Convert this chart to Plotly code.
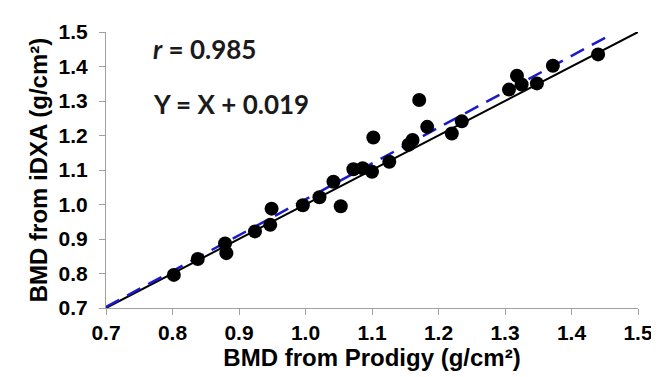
import plotly.graph_objects as go

# Data
prodigy = [0.802, 0.838, 0.879, 0.881, 0.924, 0.947, 0.949, 0.996, 1.021, 1.042,
           1.053, 1.072, 1.086, 1.100, 1.102, 1.126, 1.155, 1.161, 1.171, 1.183,
           1.220, 1.235, 1.306, 1.318, 1.325, 1.348, 1.372, 1.440]
idxa = [0.796, 0.842, 0.887, 0.859, 0.922, 0.941, 0.988, 0.998, 1.021, 1.066,
        0.995, 1.102, 1.105, 1.095, 1.194, 1.124, 1.173, 1.187, 1.303, 1.225,
        1.206, 1.241, 1.333, 1.373, 1.348, 1.351, 1.402, 1.435]

identity_x = [0.7, 1.5]
identity_y = [0.7, 1.5]
fit_x = [0.7, 1.46]
fit_y = [0.703, 1.493]

tick_vals = [0.7, 0.8, 0.9, 1.0, 1.1, 1.2, 1.3, 1.4, 1.5]
tick_text = ["0.7", "0.8", "0.9", "1.0", "1.1", "1.2", "1.3", "1.4", "1.5"]

fig = go.Figure()
fig.add_trace(go.Scatter(x=identity_x, y=identity_y, mode="lines",
                         line=dict(color="black", width=2), showlegend=False))
fig.add_trace(go.Scatter(x=fit_x, y=fit_y, mode="lines",
                         line=dict(color="#1a1acc", width=2.5, dash="15px,9px"),
                         showlegend=False))
fig.add_trace(go.Scatter(x=prodigy, y=idxa, mode="markers",
                         marker=dict(color="black", size=14), showlegend=False))

axis_font = dict(family="Liberation Sans, Arial", size=21, color="black", weight="bold")
title_font = dict(family="Liberation Sans, Arial", size=24, color="black", weight="bold")

fig.update_xaxes(range=[0.7, 1.5], tickvals=tick_vals, ticktext=tick_text,
                 showgrid=False, zeroline=False, showline=True, linecolor="#a0a0a0",
                 linewidth=1, ticks="outside", ticklen=6, tickcolor="#a0a0a0",
                 tickfont=axis_font,
                 title=dict(text="BMD from Prodigy (g/cm²)", font=title_font, standoff=2))
fig.update_yaxes(range=[0.7, 1.5], tickvals=tick_vals, ticktext=tick_text,
                 showgrid=False, zeroline=False, showline=True, linecolor="#a0a0a0",
                 linewidth=1, ticks="outside", ticklen=6, tickcolor="#a0a0a0",
                 tickfont=axis_font, ticklabelstandoff=7,
                 title=dict(text="BMD from iDXA (g/cm²)", font=title_font, standoff=4))

ann_font = dict(family="Lato", size=26, color="#1a1a1a", weight="bold")
fig.add_annotation(x=0.768, y=1.452, xref="x", yref="y", xanchor="left", yanchor="middle",
                   text="<i>r</i> = 0.985", showarrow=False, font=ann_font)
fig.add_annotation(x=0.768, y=1.29, xref="x", yref="y", xanchor="left", yanchor="middle",
                   text="Y = X + 0.019", showarrow=False, font=ann_font)

fig.update_layout(width=659, height=377, margin=dict(l=98, r=29, t=18, b=77),
                  plot_bgcolor="white", paper_bgcolor="white")

fig.write_html("out.html")
